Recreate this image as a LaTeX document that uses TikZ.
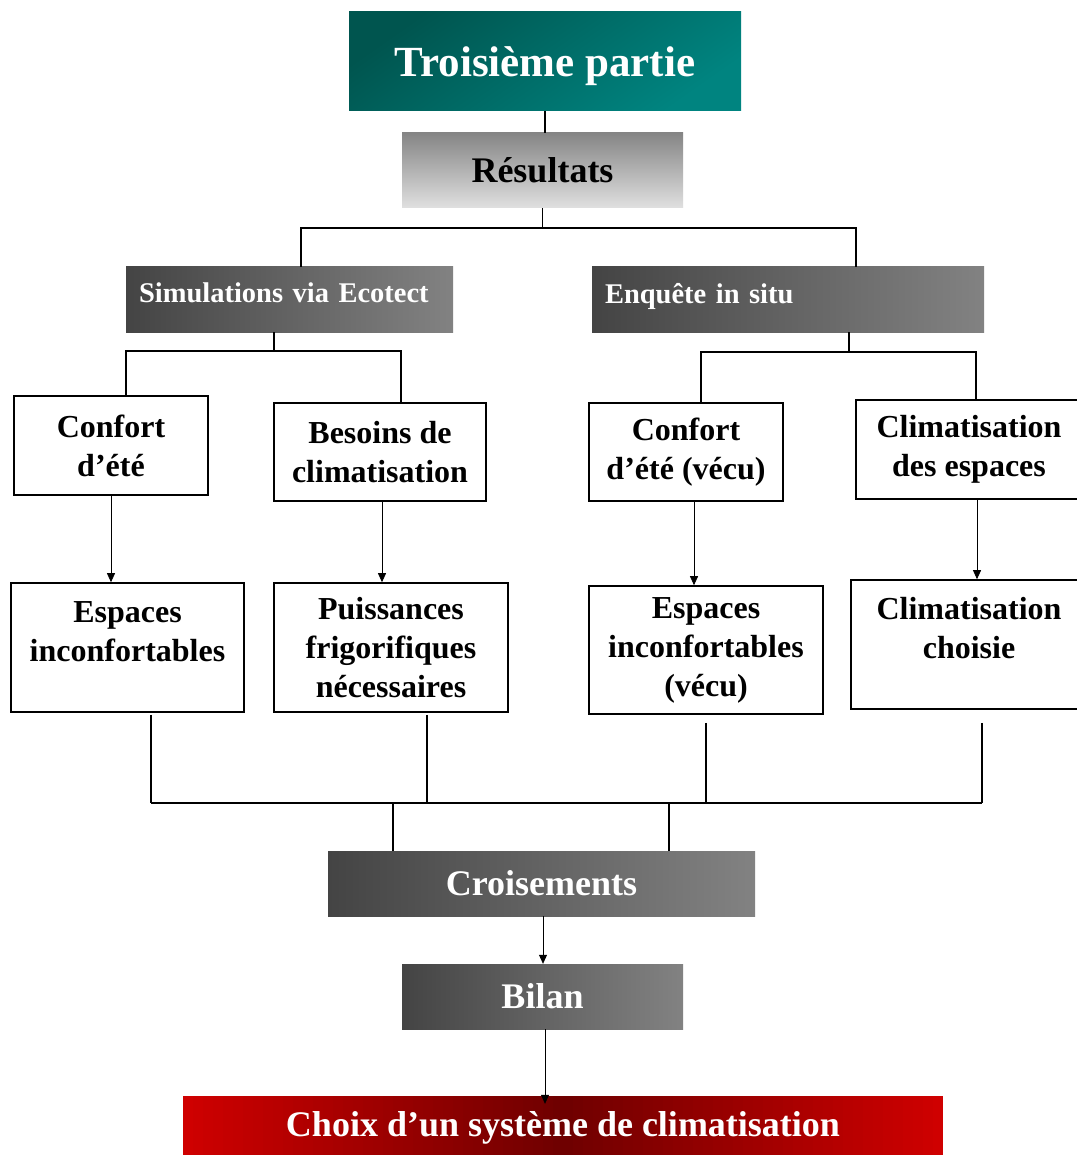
\documentclass[tikz,border=0pt]{standalone}
\usepackage{fontspec}
\setmainfont{Liberation Serif}
\usetikzlibrary{arrows.meta}
\definecolor{tealA}{HTML}{00554F}
\definecolor{tealB}{HTML}{008480}
\definecolor{resA}{HTML}{858585}
\definecolor{resB}{HTML}{E0E0E0}
\definecolor{gA}{HTML}{444444}
\definecolor{gB}{HTML}{828282}
\definecolor{redA}{HTML}{D00000}
\definecolor{redB}{HTML}{6E0000}
\newcommand\myfs[2]{\fontsize{#1}{#2}\selectfont}
\begin{document}
\begin{tikzpicture}[x=1pt,y=-1pt,
  wbox/.style={draw=black, line width=1.6pt, fill=white, align=center, inner sep=0pt, font=\bfseries\myfs{32}{39}},
  gbox/.style={left color=gA, right color=gB, draw=none, text=white, inner sep=0pt},
  tree/.style={line width=1.6pt},
  arr/.style={line width=0.8pt, -{Triangle[length=9pt,width=8pt]}},
]
\useasboundingbox (0,0) rectangle (1076,1155);
\fill[white] (0,0) rectangle (1076,1155);

% top
\node[top color=tealA, bottom color=tealB, shading angle=35, draw=none, text=white,
      minimum width=392, minimum height=99, inner sep=0pt, text height=40pt, text depth=9pt,
      font=\bfseries\myfs{43}{50}]
      (tp) at (545,61.5) {Troisième partie};
\node[top color=resA, bottom color=resB, draw=none, text=black,
      minimum width=281, minimum height=75, inner sep=0pt, font=\bfseries\myfs{36}{42}]
      (res) at (542.5,170.5) {Résultats};

% second level
\node[gbox, minimum width=327, minimum height=65, text width=301, align=left, text depth=13pt,
      font=\bfseries\myfs{28.5}{33}] (sim) at (289.5,299.5) {Simulations via Ecotect};
\node[gbox, minimum width=392, minimum height=65, text width=366, align=left, text depth=13pt,
      font=\bfseries\myfs{28.5}{33}] (enq) at (788,299.5) {Enquête in situ};

% third level
\node[wbox, minimum width=194, minimum height=99] (conf1) at (111,445.5) {Confort\\d’été};
\node[wbox, minimum width=212, minimum height=98] (bes) at (380,452) {Besoins de\\climatisation};
\node[wbox, minimum width=194, minimum height=98] (conf2) at (686,452) {Confort\\d’été (vécu)};
\node[wbox, minimum width=226, minimum height=99] (clim1) at (969,449.5) {Climatisation\\des espaces};

% fourth level
\node[wbox, minimum width=233, minimum height=129] (esp1) at (127.5,647.5) {Espaces\\inconfortables\\[-8pt]\mbox{}};
\node[wbox, minimum width=234, minimum height=129] (puis) at (391,647.5) {Puissances\\frigorifiques\\nécessaires};
\node[wbox, minimum width=234, minimum height=128] (esp2) at (706,650) {Espaces\\inconfortables\\(vécu)};
\node[wbox, minimum width=236, minimum height=129] (clim2) at (969,644.5) {Climatisation\\choisie\\[-6pt]\mbox{}};

% bottom
\node[gbox, minimum width=427, minimum height=65, font=\bfseries\myfs{36}{42}] (cro) at (541.5,883.5) {Croisements};
\node[gbox, minimum width=281, minimum height=65, font=\bfseries\myfs{36}{42}] (bil) at (542.5,996.5) {Bilan};
\node[draw=none, minimum width=760, minimum height=64, inner sep=0pt] (red) at (563,1128) {};
\foreach \i in {0,...,75}{
  \pgfmathsetmacro\pp{abs(\i+0.5-38)/38*100}
  \fill[redA!\pp!redB] ([xshift=\i*10pt]red.north west) rectangle ([xshift=\i*10pt+10.6pt]red.south west);
}
\node[text=white, font=\bfseries\myfs{36}{42}, inner sep=0pt] (redtxt) at (red.center) {Choix d’un système de climatisation};

% coordinates for the tree
\coordinate (rA) at (301,228);
\coordinate (rB) at (856,228);
\coordinate (sC) at (274,351);
\coordinate (sA) at (126,351);
\coordinate (sB) at (401,351);
\coordinate (eC) at (849,352);
\coordinate (eA) at (701,352);
\coordinate (eB) at (976,352);
\coordinate (b1) at (151,803);
\coordinate (b2) at (427,803);
\coordinate (b3) at (706,803);
\coordinate (b4) at (982,803);
\coordinate (c1) at (393,803);
\coordinate (c2) at (669,803);

% connectors
\draw[tree] (tp.south) -- (res.north -| tp.south);
\draw[tree] (res.south) -- (res.south |- rA);
\draw[tree] (sim.north -| rA) -- (rA) -- (rB) -- (enq.north -| rB);
\draw[tree] (sim.south -| sC) -- (sC);
\draw[tree] (conf1.north -| sA) -- (sA) -- (sB) -- (bes.north -| sB);
\draw[tree] (enq.south -| eC) -- (eC);
\draw[tree] (conf2.north -| eA) -- (eA) -- (eB) -- (clim1.north -| eB);

\draw[arr] (conf1.south) -- (esp1.north -| conf1.south);
\draw[arr] ([xshift=2pt]bes.south) -- ([xshift=2pt]puis.north -| bes.south);
\draw[arr] ([xshift=8pt]conf2.south) -- ([xshift=8pt]esp2.north -| conf2.south);
\draw[arr] ([xshift=8pt]clim1.south) -- ([xshift=8pt]clim2.north -| clim1.south);

\draw[tree, shorten <=2pt] (esp1.south -| b1) -- (b1);
\draw[tree, shorten <=2pt] (puis.south -| b2) -- (b2);
\draw[tree, shorten <=8pt] (esp2.south -| b3) -- (b3);
\draw[tree, shorten <=13pt] (clim2.south -| b4) -- (b4);
\draw[tree] (b1) -- (b4);
\draw[tree] (c1) -- (cro.north -| c1);
\draw[tree] (c2) -- (cro.north -| c2);

\draw[arr] ([xshift=1.5pt]cro.south) -- ([xshift=1.5pt]bil.north -| cro.south);
\draw[arr, shorten >=-8pt] ([xshift=2.5pt]bil.south) -- ([xshift=2.5pt]bil.south |- red.north);
\end{tikzpicture}
\end{document}
